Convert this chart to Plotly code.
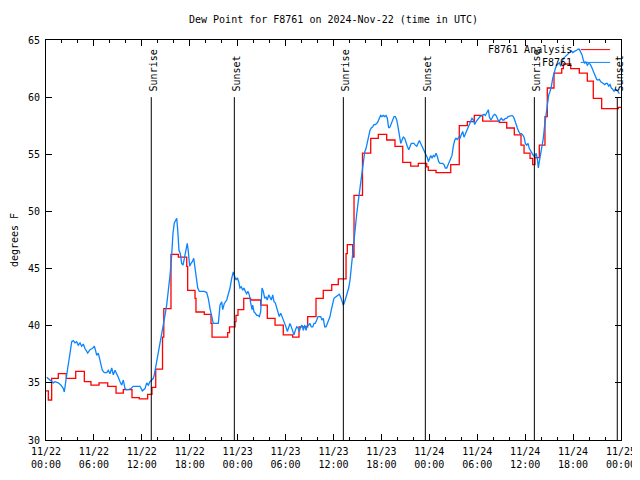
import pandas as pd
import plotly.graph_objects as go

START = pd.Timestamp("2024-11-22 00:00")
END = pd.Timestamp("2024-11-25 00:00")

# Analysis (red, stepped): hours since start, value
RED_H = [0.0, 0.29, 0.71, 1.54, 2.54, 3.72, 4.80, 5.63, 6.64, 7.73,
         8.77, 9.68, 10.77, 11.68, 12.73, 13.27, 13.74, 14.59, 14.75, 15.65,
         16.57, 17.62, 17.74, 18.66, 18.78, 19.82, 20.66, 20.79, 22.75, 22.98,
         23.67, 23.79, 24.04, 24.76, 25.63, 26.88, 27.71, 28.68, 29.71, 30.89,
         31.68, 32.77, 33.81, 34.72, 35.78, 36.60, 37.57, 37.73, 38.40, 38.57,
         39.63, 40.66, 41.61, 42.66, 43.70, 44.67, 45.67, 46.62, 47.67, 47.87,
         48.84, 50.68, 51.75, 52.76, 53.63, 54.68, 56.76, 57.69, 58.64, 59.48,
         59.86, 60.61, 60.94, 61.23, 61.77, 62.48, 62.77, 63.61, 64.58, 64.78,
         65.70, 66.78, 67.78, 68.53, 69.58, 71.67, 72.0]
RED_V = [34.3, 33.5, 35.4, 35.8, 35.4, 36.0, 35.1, 34.8, 35.0, 34.7,
         34.1, 34.4, 33.7, 33.6, 34.0, 34.6, 36.2, 39.0, 41.5, 46.25,
         46.0, 45.2, 43.1, 42.4, 41.2, 41.0, 40.2, 39.0, 39.4, 39.9,
         40.35, 40.9, 41.4, 42.4, 42.25, 41.8, 40.65, 40.06, 39.2, 39.0,
         39.9, 40.8, 42.4, 43.1, 43.6, 44.1, 46.3, 47.1, 46.0, 51.4,
         55.1, 56.4, 56.75, 56.25, 55.7, 54.3, 53.97, 54.2, 53.9, 53.6,
         53.4, 54.1, 57.5, 57.85, 58.4, 57.9, 57.8, 57.3, 56.7, 55.8,
         55.1, 54.65, 54.1, 54.7, 55.8, 58.3, 60.8, 62.1, 62.5, 62.9,
         62.5, 62.1, 61.4, 59.9, 59.0, 59.1, 59.1]

# Observations (blue): hours since start, value
BLUE_H = [0.09, 0.50, 0.91, 1.13, 1.54, 1.88, 2.17, 2.29, 2.47, 2.72,
          2.88, 3.04, 3.22, 3.42, 3.63, 3.84, 4.04, 4.26, 4.47, 4.67,
          4.88, 5.22, 5.51, 5.80, 6.05, 6.22, 6.35, 6.55, 6.67, 6.89,
          7.05, 7.30, 7.60, 7.80, 8.01, 8.23, 8.43, 8.64, 8.85, 9.05,
          9.27, 9.48, 9.68, 9.89, 10.11, 10.31, 10.64, 10.93, 11.36, 11.77,
          12.06, 12.40, 12.61, 12.81, 13.02, 13.24, 13.44, 13.56, 13.74, 13.99,
          14.15, 14.31, 14.49, 14.69, 14.90, 15.11, 15.31, 15.53, 15.74, 15.90,
          16.07, 16.24, 16.37, 16.49, 16.65, 16.82, 16.99, 17.16, 17.32, 17.49,
          17.69, 17.82, 17.99, 18.16, 18.32, 18.50, 18.66, 18.82, 19.00, 19.20,
          19.50, 19.82, 20.12, 20.32, 20.54, 20.75, 20.95, 21.25, 21.58, 21.79,
          22.00, 22.13, 22.33, 22.63, 22.83, 23.04, 23.25, 23.45, 23.63, 23.79,
          23.96, 24.13, 24.29, 24.46, 24.63, 24.79, 24.96, 25.13, 25.29, 25.46,
          25.63, 25.80, 25.88, 26.05, 26.21, 26.38, 26.55, 26.71, 26.88, 27.05,
          27.21, 27.39, 27.55, 27.71, 27.89, 28.05, 28.21, 28.39, 28.55, 28.71,
          28.89, 29.05, 29.21, 29.39, 29.55, 29.71, 29.89, 30.05, 30.22, 30.39,
          30.55, 30.72, 30.89, 31.05, 31.22, 31.39, 31.56, 31.72, 31.89, 32.06,
          32.22, 32.40, 32.56, 32.72, 32.90, 33.06, 33.22, 33.40, 33.56, 33.72,
          33.90, 34.06, 34.22, 34.40, 34.56, 34.72, 34.90, 35.06, 35.23, 35.40,
          35.56, 35.73, 35.90, 36.06, 36.23, 36.40, 36.56, 36.73, 36.90, 37.07,
          37.23, 37.40, 37.57, 37.73, 37.90, 38.07, 38.23, 38.40, 38.57, 38.73,
          38.91, 39.07, 39.23, 39.41, 39.57, 39.73, 39.91, 40.07, 40.23, 40.41,
          40.57, 40.74, 40.91, 41.07, 41.24, 41.41, 41.57, 41.74, 41.91, 42.07,
          42.24, 42.41, 42.58, 42.74, 42.91, 43.08, 43.24, 43.41, 43.58, 43.74,
          43.92, 44.08, 44.24, 44.42, 44.58, 44.74, 44.92, 45.08, 45.24, 45.42,
          45.58, 45.74, 45.92, 46.08, 46.24, 46.42, 46.58, 46.75, 46.92, 47.08,
          47.25, 47.42, 47.58, 47.75, 47.87, 48.00, 48.17, 48.34, 48.50, 48.67,
          48.84, 49.00, 49.17, 49.34, 49.50, 49.67, 49.84, 50.00, 50.18, 50.34,
          50.50, 50.68, 50.84, 51.00, 51.18, 51.34, 51.50, 51.68, 51.84, 52.00,
          52.18, 52.34, 52.51, 52.68, 52.84, 53.01, 53.18, 53.34, 53.51, 53.68,
          53.85, 54.01, 54.18, 54.35, 54.51, 54.68, 54.85, 55.01, 55.19, 55.39,
          55.51, 55.69, 55.85, 56.01, 56.19, 56.35, 56.51, 56.69, 56.85, 57.01,
          57.19, 57.35, 57.51, 57.69, 57.85, 58.02, 58.19, 58.35, 58.52, 58.69,
          58.85, 59.02, 59.19, 59.36, 59.52, 59.69, 59.86, 60.02, 60.19, 60.36,
          60.52, 60.69, 60.86, 61.02, 61.23, 61.36, 61.52, 61.65, 61.77, 61.95,
          62.11, 62.27, 62.45, 62.61, 62.77, 62.95, 63.11, 63.27, 63.45, 63.61,
          63.78, 63.95, 64.11, 64.28, 64.45, 64.61, 64.78, 64.95, 65.12, 65.28,
          65.45, 65.62, 65.78, 65.95, 66.12, 66.28, 66.45, 66.62, 66.78, 66.95,
          67.12, 67.28, 67.45, 67.62, 67.78, 67.96, 68.12, 68.28, 68.46, 68.62,
          68.79, 68.96, 69.12, 69.29, 69.46, 69.62, 69.79, 69.96, 70.12, 70.29,
          70.46, 70.63, 70.79, 70.96, 71.13, 71.29, 71.46, 71.63, 71.79]
BLUE_V = [35.5, 35.25, 35.0, 35.1, 35.0, 34.8, 34.5, 34.2, 35.25, 36.3,
          37.0, 37.9, 38.6, 38.7, 38.5, 38.6, 38.3, 38.5, 38.2, 38.4,
          38.0, 37.6, 37.9, 38.0, 38.2, 37.8, 37.4, 37.6, 37.2, 36.7,
          36.1, 35.9, 35.9, 36.1, 35.8, 36.3, 35.7, 36.1, 35.7, 35.5,
          35.1, 34.8, 35.25, 34.5, 34.4, 34.4, 34.5, 34.7, 34.7, 34.7,
          34.3, 34.5, 35.0, 34.8, 35.1, 35.25, 35.4, 35.7, 36.4, 37.15,
          37.7, 38.3, 39.0, 40.1, 40.9, 41.8, 43.0, 44.4, 46.2, 48.1,
          49.0, 49.25, 49.4, 48.4, 46.6, 46.3, 45.45, 45.3, 45.9, 46.8,
          47.2, 46.5, 45.2, 45.45, 45.6, 45.9, 45.2, 44.15, 43.3, 43.0,
          43.0, 43.0, 42.9, 42.4, 41.5, 40.65, 40.2, 40.2, 40.2, 41.8,
          42.1, 41.4, 41.95, 42.25, 42.8, 43.3, 44.15, 44.7, 44.3, 44.0,
          44.2, 43.85, 43.3, 43.4, 43.1, 43.3, 43.0, 42.8, 43.0, 42.7,
          42.0, 41.4, 41.8, 41.2, 41.1, 40.9, 40.9, 40.8, 41.2, 43.3,
          43.0, 42.4, 42.5, 42.25, 42.7, 42.4, 42.25, 42.7, 42.1, 42.0,
          41.5, 41.1, 40.8, 41.1, 40.8, 40.5, 40.35, 39.9, 39.5, 39.9,
          40.2, 39.9, 39.5, 39.2, 39.6, 39.9, 39.8, 39.5, 39.9, 40.06,
          39.6, 40.06, 39.6, 40.06, 40.06, 40.2, 39.9, 39.9, 40.2, 40.2,
          40.5, 40.8, 40.8, 40.8, 40.5, 40.65, 39.9, 39.9, 40.2, 40.5,
          40.8, 41.4, 42.0, 42.4, 42.5, 42.6, 42.7, 42.75, 42.5, 42.1,
          41.8, 42.1, 42.5, 43.0, 43.3, 44.0, 45.2, 46.3, 47.8, 49.0,
          49.8, 50.7, 51.6, 52.75, 53.5, 54.5, 55.2, 55.5, 56.1, 56.7,
          57.1, 57.3, 57.4, 57.6, 57.6, 57.7, 57.85, 58.15, 58.4, 58.3,
          58.4, 58.3, 58.4, 58.15, 57.3, 57.4, 57.7, 58.15, 58.3, 58.3,
          58.0, 57.4, 56.8, 55.95, 56.25, 56.5, 56.4, 55.95, 55.7, 55.4,
          55.7, 55.95, 55.95, 55.95, 55.8, 55.7, 55.95, 56.2, 55.95, 55.7,
          55.5, 55.3, 55.0, 54.7, 54.35, 54.65, 54.9, 54.65, 54.9, 54.8,
          55.1, 54.8, 54.35, 54.2, 54.2, 54.2, 54.1, 53.8, 53.8, 54.1,
          54.35, 54.65, 54.9, 55.7, 56.25, 56.4, 56.3, 56.5, 56.4, 56.7,
          57.0, 56.5, 56.8, 57.1, 57.4, 57.7, 57.85, 58.15, 58.0, 57.6,
          57.85, 58.0, 58.15, 58.3, 58.35, 58.4, 58.5, 58.4, 58.6, 58.9,
          58.3, 58.0, 58.15, 58.4, 58.5, 58.4, 58.15, 57.85, 58.0, 58.15,
          58.0, 58.0, 58.15, 58.15, 58.3, 58.3, 58.35, 58.4, 58.3, 58.0,
          57.6, 57.3, 57.0, 56.8, 56.8, 56.7, 56.5, 55.95, 55.8, 55.95,
          55.5, 55.3, 55.1, 54.9, 54.8, 55.1, 54.65, 53.8, 54.35, 55.1,
          55.7, 56.4, 57.6, 58.6, 59.6, 60.2, 60.5, 60.9, 61.65, 62.2,
          62.5, 62.8, 62.95, 63.0, 62.7, 63.1, 63.4, 63.5, 63.6, 63.7,
          63.8, 63.9, 64.05, 63.9, 64.0, 64.05, 64.1, 64.2, 64.2, 64.0,
          63.7, 63.25, 62.95, 63.1, 62.8, 62.95, 62.9, 62.7, 62.4, 62.1,
          61.8, 61.55, 61.5, 61.55, 61.35, 61.3, 61.2, 61.1, 61.2, 61.2,
          60.97, 61.1, 60.8, 60.7, 60.5, 60.7, 60.6, 60.5, 60.3]

EVENT_TIMES = ["2024-11-22 13:11", "2024-11-22 23:35", "2024-11-23 13:14",
               "2024-11-23 23:30", "2024-11-24 13:09", "2024-11-24 23:32"]
EVENT_LABELS = ["Sunrise", "Sunset", "Sunrise", "Sunset", "Sunrise", "Sunset"]
EVENT_TOP = 60

SERIES_NAMES = ["F8761 Analysis", "F8761"]
SERIES_COLORS = ["#ff0000", "#0a84ff"]

TITLE = "Dew Point for F8761 on 2024-Nov-22 (time in UTC)"
Y_TITLE = "degrees F"
Y_RANGE = [30, 65]

FONT = "DejaVu Sans Mono"

# the page body adds an 8px margin, so the figure is sized to fit inside it
FIG_W, FIG_H = 632, 472


def to_time(hours):
    return START + pd.to_timedelta(pd.Series(hours), unit="h")


fig = go.Figure()
fig.add_trace(go.Scatter(x=to_time(RED_H), y=RED_V, mode="lines",
                         line=dict(color=SERIES_COLORS[0], width=1.3, shape="hv"),
                         name=SERIES_NAMES[0], showlegend=False))
fig.add_trace(go.Scatter(x=to_time(BLUE_H), y=BLUE_V, mode="lines",
                         line=dict(color=SERIES_COLORS[1], width=1.3),
                         name=SERIES_NAMES[1], showlegend=False))

for t, lab in zip(EVENT_TIMES, EVENT_LABELS):
    ts = pd.Timestamp(t)
    fig.add_shape(type="line", xref="x", yref="y", x0=ts, x1=ts,
                  y0=Y_RANGE[0], y1=EVENT_TOP, line=dict(color="black", width=1))
    fig.add_annotation(x=ts, y=EVENT_TOP, xref="x", yref="y", text=lab,
                       textangle=-90, showarrow=False, yanchor="bottom",
                       xanchor="center", yshift=4, xshift=2,
                       font=dict(family=FONT, size=10, color="black"))

# legend (gnuplot style: text on the left, sample line on the right)
LEG_Y = [0.976, 0.944]
for name, col, ly in zip(SERIES_NAMES, SERIES_COLORS, LEG_Y):
    fig.add_annotation(x=0.919, y=ly, xref="paper", yref="paper", text=name,
                       showarrow=False, xanchor="right", yanchor="middle",
                       font=dict(family=FONT, size=10, color="black"))
    fig.add_shape(type="line", xref="paper", yref="paper", x0=0.930, x1=0.981,
                  y0=ly, y1=ly, line=dict(color=col, width=1))

tickvals = pd.date_range(START, END, freq="6h")
ticktext = [d.strftime("%m/%d") + "<br>" + d.strftime("%H:%M") for d in tickvals]

fig.update_layout(
    width=FIG_W, height=FIG_H,
    margin=dict(l=38, r=19, t=32, b=40, autoexpand=False),
    paper_bgcolor="white", plot_bgcolor="white",
    font=dict(family=FONT, size=10, color="black"),
    title=dict(text=TITLE, x=0.5, xref="paper", xanchor="center",
               y=1 - 11 / FIG_H, yref="container", yanchor="middle",
               font=dict(family=FONT, size=10, color="black")),
    showlegend=False,
)
fig.update_xaxes(
    type="date", range=[START, END], automargin=False,
    tickmode="array", tickvals=tickvals, ticktext=ticktext,
    ticks="inside", ticklen=6, tickcolor="black", tickwidth=1,
    ticklabelstandoff=2,
    minor=dict(ticks="inside", ticklen=3, tickmode="linear",
               dtick=2 * 3600 * 1000, tick0=START, tickcolor="black",
               showgrid=False),
    showline=True, linecolor="black", linewidth=1, mirror="allticks",
    showgrid=False, zeroline=False,
    tickfont=dict(family=FONT, size=10, color="black"),
)
fig.update_yaxes(
    range=Y_RANGE, dtick=5, tick0=30, automargin=False,
    ticks="inside", ticklen=6, tickcolor="black", tickwidth=1,
    ticklabelstandoff=3,
    showline=True, linecolor="black", linewidth=1, mirror="allticks",
    showgrid=False, zeroline=False,
    title=dict(text=Y_TITLE, standoff=7, font=dict(family=FONT, size=10, color="black")),
    tickfont=dict(family=FONT, size=10, color="black"),
)

fig.write_html("out.html")
